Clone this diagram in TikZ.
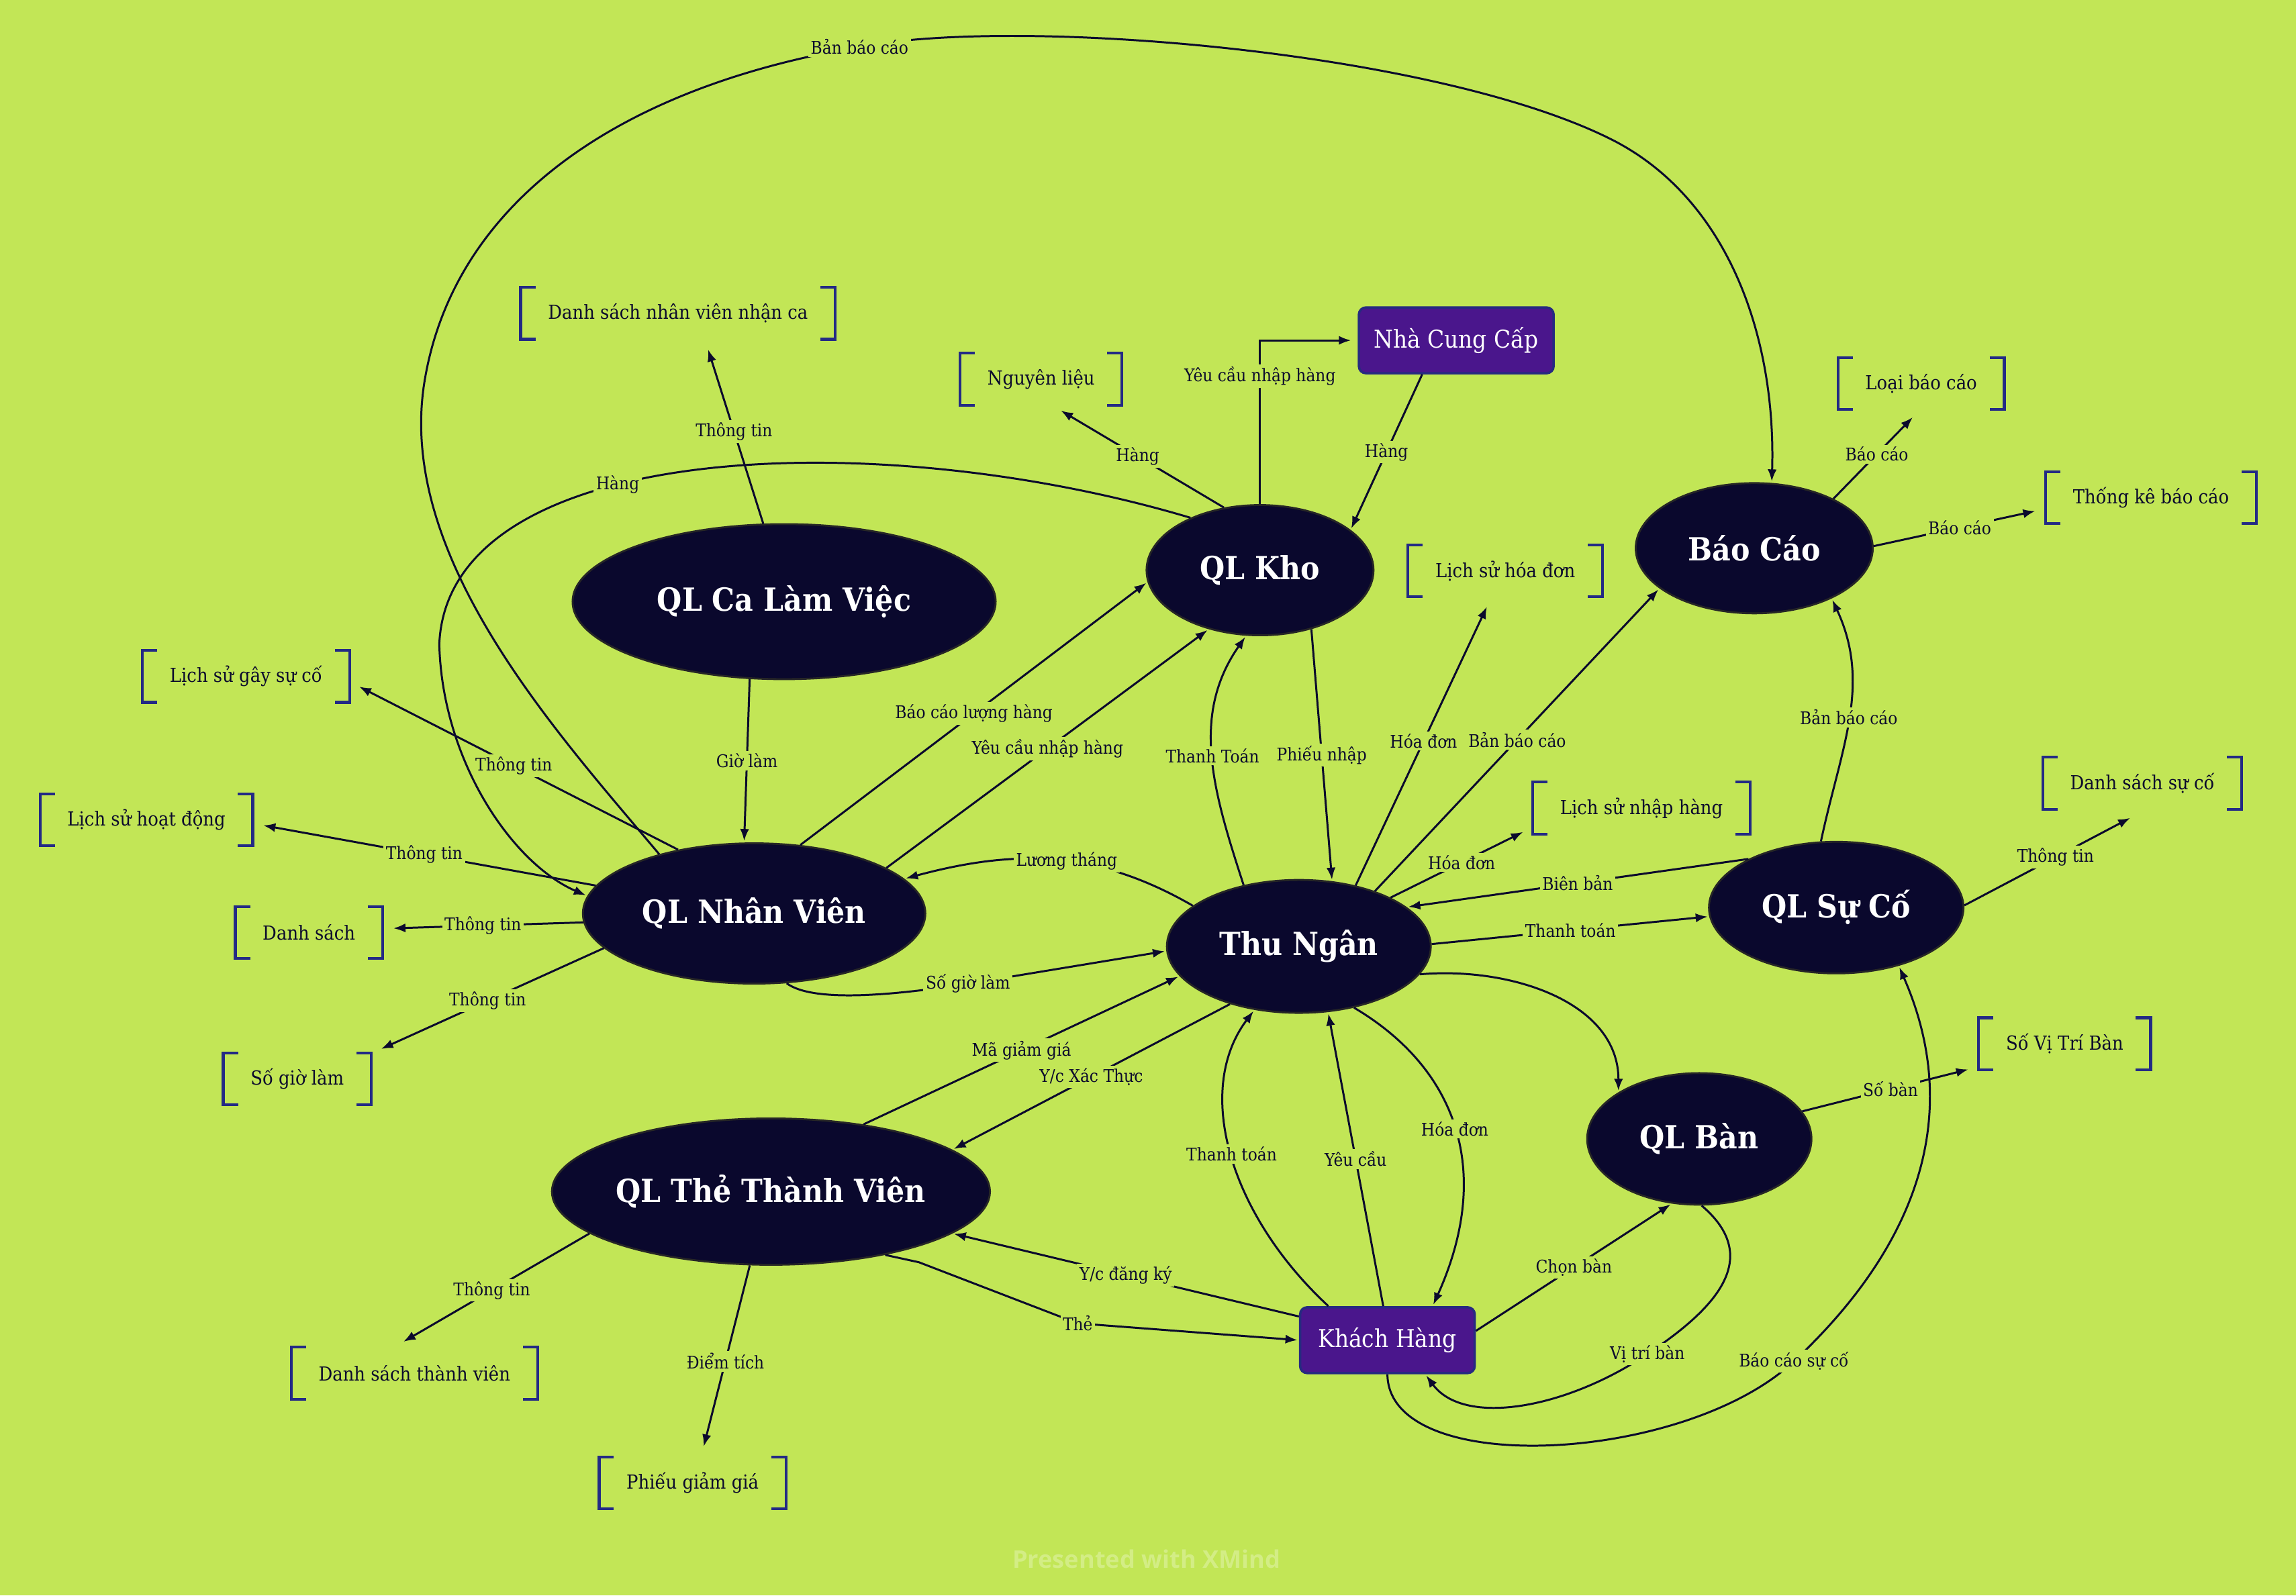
\documentclass[tikz,border=0pt]{standalone}
\usepackage{fontspec}
\setmainfont{DejaVu Serif}[FakeStretch=0.9]
\newfontfamily\wmfont{Open Sans}
\usepackage{xcolor}
\usepackage{tikz}
\usetikzlibrary{arrows.meta, positioning, shapes.geometric}
\definecolor{mapbg}{HTML}{C2E656}
\definecolor{ink}{HTML}{0B0A2C}
\definecolor{topicfill}{HTML}{0A082D}
\definecolor{entfill}{HTML}{4A168C}
\definecolor{entline}{HTML}{272A80}
\definecolor{brkblue}{HTML}{232A85}

\tikzset{
  proc/.style={ellipse, fill=topicfill, draw=black!85, line width=0.8pt, text=white,
    font=\fontsize{13.5}{15}\selectfont\bfseries, inner sep=0pt},
  ent/.style={rectangle, rounded corners=3pt, fill=entfill, draw=entline, line width=1pt,
    text=white, font=\fontsize{10.4}{12}\selectfont, minimum height=0.98cm},
  store/.style={text=ink, font=\fontsize{8.2}{10}\selectfont, inner xsep=0.4cm, minimum height=0.76cm},
  brk/.style={draw=brkblue, line width=1.2pt},
  flow/.style={draw=ink, line width=0.85pt, -{Latex[length=1.8mm, width=1.35mm]}, shorten >=0.6pt},
  toitem/.style={flow, shorten >=1.6mm},
  lbl/.style={fill=mapbg, text=ink, inner sep=1pt, font=\fontsize{7.4}{9}\selectfont},
}

\begin{document}
\begin{tikzpicture}[x=0.02181cm, y=-0.02181cm]
\fill[mapbg] (0,0) rectangle (1568,1090);
\useasboundingbox (0,0) rectangle (1568,1090);
\node[text=mapbg!72!white, font=\wmfont\fontsize{10.3}{12}\selectfont\bfseries] (wm) at (783,1065) {Presented with XMind};

% processes
\node[proc, minimum width=6.30cm, minimum height=2.31cm] (ca)  at (535.5,411)   {QL Ca Làm Việc};
\node[proc, minimum width=3.38cm, minimum height=1.94cm] (kho) at (860.5,389.5) {QL Kho};
\node[proc, minimum width=3.53cm, minimum height=1.94cm] (bc)  at (1198,374.5)  {Báo Cáo};
\node[proc, minimum width=5.10cm, minimum height=2.09cm] (nv)  at (515,624)     {QL Nhân Viên};
\node[proc, minimum width=3.93cm, minimum height=1.98cm] (tn)  at (887,646.5)   {Thu Ngân};
\node[proc, minimum width=3.79cm, minimum height=1.96cm] (sc)  at (1254,620)    {QL Sự Cố};
\node[proc, minimum width=3.34cm, minimum height=1.96cm] (ban) at (1160.5,778)  {QL Bàn};
\node[proc, minimum width=6.48cm, minimum height=2.18cm] (the) at (526.5,814)   {QL Thẻ Thành Viên};

% external entities
\node[ent, minimum width=2.90cm] (ncc) at (994.5,232.5) {Nhà Cung Cấp};
\node[ent, minimum width=2.60cm] (kh)  at (947.5,915.5) {Khách Hàng};

% data stores
\node[store] (dsnv)  at (463,214)  {Danh sách nhân viên nhận ca};
\node[store] (nl)    at (711,259)  {Nguyên liệu};
\node[store] (lbc)   at (1312,262) {Loại báo cáo};
\node[store] (tkbc)  at (1469,340) {Thống kê báo cáo};
\node[store] (lshd)  at (1028,390) {Lịch sử hóa đơn};
\node[store] (lsgsc) at (168,462)  {Lịch sử gây sự cố};
\node[store] (lshdg) at (100,560)  {Lịch sử hoạt động};
\node[store] (lsnh)  at (1121,552) {Lịch sử nhập hàng};
\node[store] (dssc)  at (1463,535) {Danh sách sự cố};
\node[store] (ds)    at (211,637)  {Danh sách};
\node[store] (sgl)   at (203,737)  {Số giờ làm};
\node[store] (svtb)  at (1410,713) {Số Vị Trí Bàn};
\node[store] (dstv)  at (283,938)  {Danh sách thành viên};
\node[store] (pgg)   at (473,1013) {Phiếu giảm giá};
\foreach \n in {dsnv,nl,lbc,tkbc,lshd,lsgsc,lshdg,lsnh,dssc,ds,sgl,svtb,dstv,pgg} {
  \draw[brk] ([xshift=0.22cm]\n.north west) -| (\n.south west) -- ++(0.22cm,0);
  \draw[brk] ([xshift=-0.22cm]\n.north east) -| (\n.south east) -- ++(-0.22cm,0);
}

% flows
\draw[toitem] (ca.105) -- node[lbl] {Thông tin} (dsnv.-44);
\draw[flow] (ca.-114) -- node[lbl] {Giờ làm} (nv.98);
\draw[toitem] (kho.120) -- node[lbl] {Hàng} (nl.-68);
\draw[flow, shorten >=1mm] (kho.north) |- node[lbl, pos=0.39] {Yêu cầu nhập hàng} (ncc.west);
\draw[flow] (ncc.-135) -- node[lbl] {Hàng} (kho.24);
\draw[flow] (kho.143) .. controls (600,290) and (306,300) .. (300,440) node[lbl, pos=0.6] {Hàng}
  .. controls (302,520) and (350,590) .. (nv.174);
\draw[flow] (kho.-49) -- node[lbl] {Phiếu nhập} (tn.63);
\draw[flow] (tn.132) to[out=108, in=-125] node[lbl] {Thanh Toán} (kho.-102);
\draw[flow] (nv.56) -- node[lbl] {Báo cáo lượng hàng} (kho.186);
\draw[flow] (nv.19) -- node[lbl] {Yêu cầu nhập hàng} (kho.-131);
\draw[toitem] (bc.32) -- node[lbl] {Báo cáo} (lbc.-92);
\draw[toitem] (bc.1) -- node[lbl] {Báo cáo} (tkbc.-174);
\draw[flow] (nv.148) .. controls (380,500) and (270,380) .. (290,260)
  .. controls (310,140) and (420,60) .. (587,32) node[lbl] {Bản báo cáo}
  .. controls (697,11) and (980,35) .. (1100,95)
  .. controls (1180,135) and (1213,230) .. (bc.75);
\draw[flow] (tn.36) -- node[lbl] {Bản báo cáo} (bc.-157);
\draw[flow] (sc.103) to[out=78, in=-65] node[lbl] {Bản báo cáo} (bc.-33);
\draw[toitem] (tn.47) -- node[lbl] {Hóa đơn} (lshd.-118);
\draw[toitem] (tn.28) -- node[lbl] {Hóa đơn} (lsnh.-170);
\draw[flow] (sc.151) -- node[lbl] {Biên bản} (tn.20);
\draw[flow] (tn.1) -- node[lbl] {Thanh toán} (sc.184);
\draw[flow] (tn.-13) to[out=5, in=90] (ban.150);
\draw[flow] (tn.159) to[out=150, in=15] node[lbl, pos=0.45] {Lương tháng} (nv.13);
\draw[flow] (nv.-65) .. controls (555,685) and (610,680) .. (661,672) node[lbl] {Số giờ làm} -- (tn.182);
\draw[flow] (the.36) -- node[lbl] {Mã giảm giá} (tn.194);
\draw[flow] (tn.220) -- node[lbl] {Y/c Xác Thực} (the.13);
\draw[flow] (kh.150) .. controls (840,830) and (815,745) .. node[lbl] {Thanh toán} (tn.-125);
\draw[flow] (kh.97) -- node[lbl] {Yêu cầu} (tn.-66);
\draw[flow] (tn.-48) .. controls (995,730) and (1020,800) .. node[lbl] {Hóa đơn} (kh.37);
\draw[toitem] (nv.140) -- node[lbl] {Thông tin} (lsgsc.-3);
\draw[toitem] (nv.170) -- node[lbl] {Thông tin} (lshdg.-2);
\draw[toitem] (nv.183) -- node[lbl] {Thông tin} (ds.3);
\draw[toitem] (nv.193) -- node[lbl] {Thông tin} (sgl.19);
\draw[toitem, shorten >=2.8mm] (sc.1) -- node[lbl] {Thông tin} (dssc.-80);
\draw[flow] (kh.south) .. controls (948,1010) and (1150,1000) .. (1225,930) node[lbl] {Báo cáo sự cố}
  .. controls (1300,860) and (1345,770) .. (sc.-43);
\draw[toitem] (ban.15) -- node[lbl] {Số bàn} (svtb.-165);
\draw[flow] (kh.6) -- node[lbl] {Chọn bàn} (ban.-113);
\draw[flow] (ban.-88) .. controls (1205,860) and (1170,895) .. (1125,925) node[lbl] {Vị trí bàn}
  .. controls (1070,962) and (1000,975) .. (kh.-42);
\draw[flow] (kh.165) -- node[lbl] {Y/c đăng ký} (the.-13);
\draw[flow] (the.-29) -- +(23,5) -- (736,904) node[lbl] {Thẻ} -- (kh.west);
\draw[toitem] (the.193) -- node[lbl] {Thông tin} (dstv.128);
\draw[toitem] (the.-106) -- node[lbl] {Điểm tích} (pgg.72);
\end{tikzpicture}
\end{document}
